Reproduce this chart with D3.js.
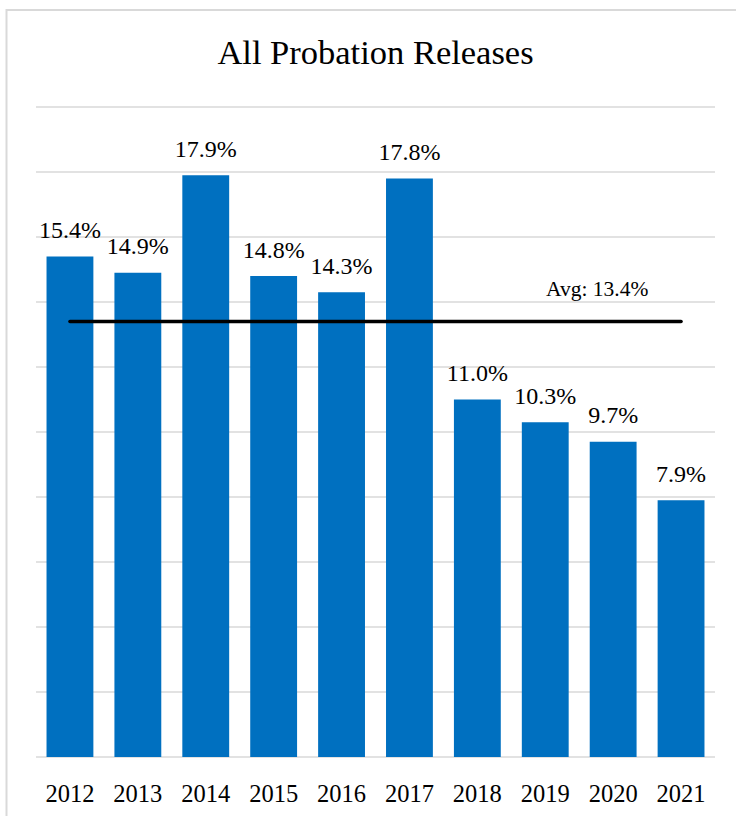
<!DOCTYPE html>
<html>
<head>
<meta charset="utf-8">
<script src="https://cdn.jsdelivr.net/npm/d3@7"></script>
<style>
  html, body { margin: 0; padding: 0; background: #fff; }
  svg { display: block; }
</style>
</head>
<body>
<div id="chart"></div>
<script>
const title = "All Probation Releases";
const years = ["2012","2013","2014","2015","2016","2017","2018","2019","2020","2021"];
const rates = [15.4, 14.9, 17.9, 14.8, 14.3, 17.8, 11.0, 10.3, 9.7, 7.9];
const average = 13.4;
const avgLabel = "Avg: 13.4%";
const yTicks = [0, 2, 4, 6, 8, 10, 12, 14, 16, 18, 20];

const FONT = "'Liberation Serif', 'Times New Roman', serif";
const W = 736, H = 816;
const margin = { left: 36, right: 21, top: 107, bottom: 59 };

const svg = d3.select("#chart").append("svg")
  .attr("width", W).attr("height", H)
  .style("font-family", FONT);

// chart border
svg.append("rect")
  .attr("x", 6.5).attr("y", 10)
  .attr("width", W + 20).attr("height", H + 20)
  .attr("fill", "none")
  .attr("stroke", "#d9d9d9")
  .attr("stroke-width", 2);

const x = d3.scaleBand()
  .domain(years)
  .range([margin.left, W - margin.right])
  .paddingInner(0.31)
  .paddingOuter(0.155);

const y = d3.scaleLinear()
  .domain([0, 20])
  .range([H - margin.bottom, margin.top]);

// gridlines
svg.append("g")
  .selectAll("line")
  .data(yTicks)
  .join("line")
  .attr("x1", margin.left)
  .attr("x2", W - margin.right)
  .attr("y1", d => y(d))
  .attr("y2", d => y(d))
  .attr("stroke", "#d9d9d9")
  .attr("stroke-width", 1.5);

// title
svg.append("text")
  .attr("x", 375.5)
  .attr("y", 64)
  .attr("text-anchor", "middle")
  .style("font-family", FONT)
  .style("font-size", "34.5px")
  .attr("fill", "#000")
  .text(title);

// bars
svg.append("g")
  .selectAll("rect")
  .data(rates)
  .join("rect")
  .attr("x", (d, i) => x(years[i]))
  .attr("y", d => y(d))
  .attr("width", x.bandwidth())
  .attr("height", d => y(0) - y(d))
  .attr("fill", "#0070c0");

// data labels
svg.append("g")
  .selectAll("text")
  .data(rates)
  .join("text")
  .attr("x", (d, i) => x(years[i]) + x.bandwidth() / 2)
  .attr("y", d => y(d) - 18.5)
  .attr("text-anchor", "middle")
  .attr("fill", "#000")
  .style("font-family", FONT)
  .style("font-size", "24px")
  .text(d => d.toFixed(1) + "%");

// x axis labels
const xAxis = d3.axisBottom(x).tickSize(0).tickPadding(0);
const gx = svg.append("g")
  .attr("transform", `translate(0,${y(0)})`)
  .call(xAxis)
  .attr("font-family", null)
  .attr("font-size", null);
gx.select(".domain").remove();
gx.selectAll("text")
  .attr("dy", null)
  .attr("y", 45)
  .attr("fill", "#000")
  .style("font-family", FONT)
  .style("font-size", "24.5px");

// average line
const first = years[0], last = years[years.length - 1];
svg.append("line")
  .attr("x1", x(first) + x.bandwidth() / 2)
  .attr("x2", x(last) + x.bandwidth() / 2)
  .attr("y1", y(average))
  .attr("y2", y(average))
  .attr("stroke", "#000")
  .attr("stroke-width", 3.5)
  .attr("stroke-linecap", "round");

// average label
const midX = (x("2019") + x("2020") + x.bandwidth()) / 2 + 18;
svg.append("text")
  .attr("x", midX)
  .attr("y", y(average) - 25.5)
  .attr("text-anchor", "middle")
  .attr("fill", "#000")
  .style("font-family", FONT)
  .style("font-size", "21.5px")
  .text(avgLabel);
</script>
</body>
</html>
